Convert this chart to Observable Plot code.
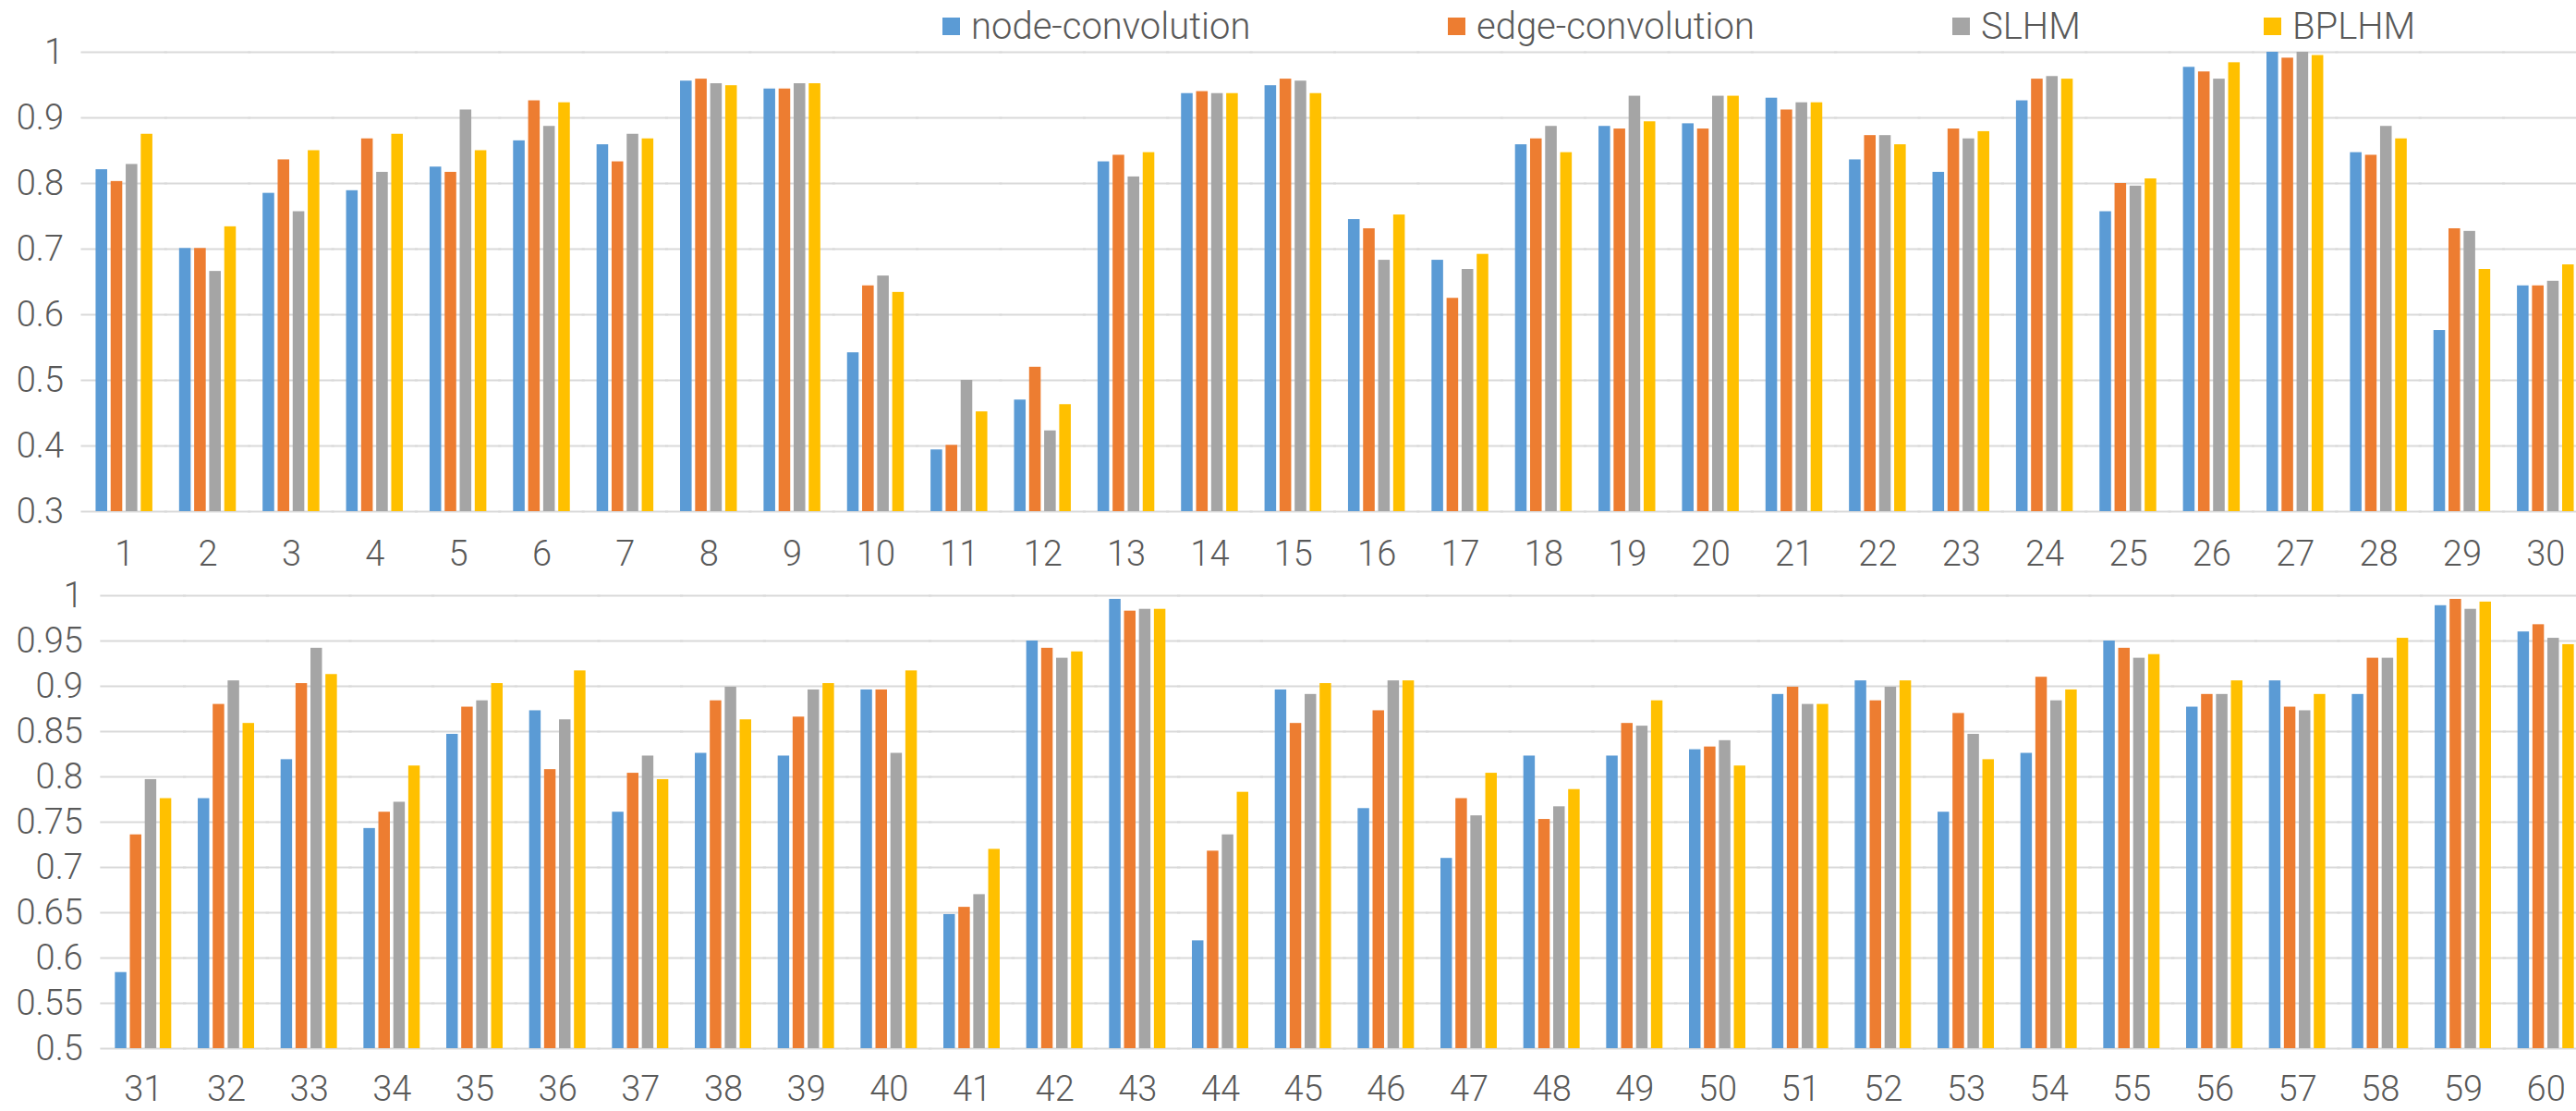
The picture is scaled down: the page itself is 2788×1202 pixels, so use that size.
<!DOCTYPE html>
<html>
<head>
<meta charset="utf-8">
<script src="https://cdn.jsdelivr.net/npm/d3@7"></script>
<script src="https://cdn.jsdelivr.net/npm/@observablehq/plot@0.6"></script>
<style>
  html, body { margin: 0; padding: 0; background: #fff; overflow: hidden; }
  #wrap { width: 2800px; position: relative; }
  #legend { position: relative; height: 45px; font-family: Roboto, "Liberation Sans", Arial, sans-serif; font-weight: 300; font-size: 40px; color: #595959; }
  .item { position: absolute; top: 6px; height: 45px; display: flex; align-items: center; white-space: nowrap; }
  .sw { width: 19px; height: 19px; margin-right: 12px; flex: none; }
  svg { display: block; }
</style>
</head>
<body>
<div id="wrap">
  <div id="legend"></div>
  <div id="top"></div>
  <div id="bottom"></div>
</div>
<script>
// ---------- data ----------
const series = ["node-convolution", "edge-convolution", "SLHM", "BPLHM"];
const colors = ["#5B9BD5", "#ED7D31", "#A5A5A5", "#FFC000"];

const topCategories = ["1","2","3","4","5","6","7","8","9","10","11","12","13","14","15","16","17","18","19","20","21","22","23","24","25","26","27","28","29","30"];
const bottomCategories = ["31","32","33","34","35","36","37","38","39","40","41","42","43","44","45","46","47","48","49","50","51","52","53","54","55","56","57","58","59","60"];

const topNode  = [0.821,0.701,0.785,0.789,0.825,0.865,0.859,0.956,0.944,0.542,0.394,0.470,0.833,0.937,0.949,0.745,0.683,0.859,0.887,0.891,0.930,0.836,0.817,0.926,0.757,0.977,1.000,0.847,0.576,0.644];
const topEdge  = [0.803,0.701,0.836,0.868,0.817,0.926,0.833,0.959,0.944,0.644,0.401,0.520,0.843,0.940,0.959,0.731,0.625,0.868,0.883,0.883,0.912,0.873,0.883,0.959,0.800,0.970,0.991,0.843,0.731,0.644];
const topSLHM  = [0.829,0.666,0.757,0.817,0.912,0.887,0.875,0.952,0.952,0.659,0.500,0.423,0.810,0.937,0.956,0.683,0.669,0.887,0.933,0.933,0.923,0.873,0.868,0.963,0.796,0.959,1.000,0.887,0.727,0.651];
const topBPLHM = [0.875,0.734,0.850,0.875,0.850,0.923,0.868,0.949,0.952,0.634,0.452,0.463,0.847,0.937,0.937,0.752,0.692,0.847,0.894,0.933,0.923,0.859,0.879,0.959,0.807,0.984,0.995,0.868,0.669,0.676];

const bottomNode  = [0.584,0.776,0.819,0.743,0.847,0.873,0.761,0.826,0.823,0.896,0.648,0.950,0.996,0.619,0.896,0.765,0.710,0.823,0.823,0.830,0.891,0.906,0.761,0.826,0.950,0.877,0.906,0.891,0.989,0.960];
const bottomEdge  = [0.736,0.880,0.903,0.761,0.877,0.808,0.804,0.884,0.866,0.896,0.656,0.942,0.983,0.718,0.859,0.873,0.776,0.753,0.859,0.833,0.899,0.884,0.870,0.910,0.942,0.891,0.877,0.931,0.996,0.968];
const bottomSLHM  = [0.797,0.906,0.942,0.772,0.884,0.863,0.823,0.899,0.896,0.826,0.670,0.931,0.985,0.736,0.891,0.906,0.757,0.767,0.856,0.840,0.880,0.899,0.847,0.884,0.931,0.891,0.873,0.931,0.985,0.953];
const bottomBPLHM = [0.776,0.859,0.913,0.812,0.903,0.917,0.797,0.863,0.903,0.917,0.720,0.938,0.985,0.783,0.903,0.906,0.804,0.786,0.884,0.812,0.880,0.906,0.819,0.896,0.935,0.906,0.891,0.953,0.993,0.946];

const topTicks = [0.3, 0.4, 0.5, 0.6, 0.7, 0.8, 0.9, 1];
const bottomTicks = [0.5, 0.55, 0.6, 0.65, 0.7, 0.75, 0.8, 0.85, 0.9, 0.95, 1];

// ---------- layout / style ----------
const FONT = 'Roboto, "Liberation Sans", Arial, sans-serif';
const TEXT = "#595959";
const GRID = "#D9D9D9";
const legendLeft = [1020, 1567, 2113, 2450];

// legend
const legend = document.getElementById("legend");
series.forEach((s, i) => {
  const it = document.createElement("div");
  it.className = "item";
  it.style.left = legendLeft[i] + "px";
  const sw = document.createElement("span");
  sw.className = "sw";
  sw.style.background = colors[i];
  const tx = document.createElement("span");
  tx.textContent = s;
  it.appendChild(sw);
  it.appendChild(tx);
  legend.appendChild(it);
});

function panel(cats, vals, ticks, o) {
  const data = cats.flatMap((c, i) => series.map((s, j) => ({cat: c, series: s, value: vals[j][i]})));
  return Plot.plot({
    width: 2800,
    height: o.height,
    marginLeft: o.ml,
    marginRight: 0,
    marginTop: o.mt,
    marginBottom: o.mb,
    style: {fontFamily: FONT, fontWeight: 300, fontSize: "38px", color: TEXT, background: "#fff", overflow: "visible"},
    fx: {domain: cats, axis: "bottom", label: null, tickSize: 0, tickPadding: o.tp, paddingInner: 0.32, paddingOuter: 0.16, round: false},
    x: {domain: series, axis: null, paddingInner: 0.23, paddingOuter: 0, round: false},
    y: {domain: [ticks[0], ticks[ticks.length - 1]], ticks: ticks, tickFormat: d => String(d), tickSize: 0, tickPadding: 35, label: null},
    color: {domain: series, range: colors},
    marks: [
      Plot.ruleY(ticks, {stroke: GRID, strokeWidth: 2, insetLeft: -16, insetRight: -16}),
      Plot.barY(data, {fx: "cat", x: "series", y1: ticks[0], y2: "value", fill: "series"})
    ]
  });
}

document.getElementById("top").appendChild(
  panel(topCategories, [topNode, topEdge, topSLHM, topBPLHM], topTicks, {height: 575, ml: 89, mt: 11, mb: 67, tp: 32})
);
document.getElementById("bottom").appendChild(
  panel(bottomCategories, [bottomNode, bottomEdge, bottomSLHM, bottomBPLHM], bottomTicks, {height: 582, ml: 110, mt: 24, mb: 68, tp: 30})
);
</script>
</body>
</html>
